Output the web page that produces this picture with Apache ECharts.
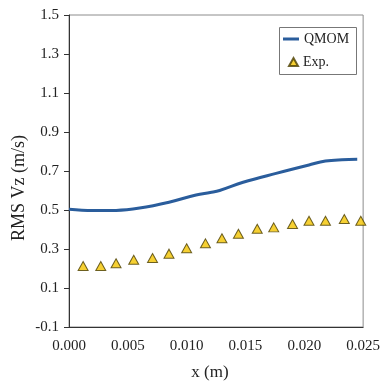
<!DOCTYPE html>
<html><head><meta charset="utf-8">
<script src="https://cdn.jsdelivr.net/npm/echarts@6/dist/echarts.min.js"></script>
<style>html,body{margin:0;padding:0;background:#fff}#c{width:383px;height:383px}</style>
</head><body><div id="c"></div>
<script>
var qmomX = [0, 0.002, 0.004, 0.006, 0.0085, 0.0108, 0.0120, 0.0128, 0.0148, 0.0176, 0.0204, 0.0218, 0.0232, 0.0245];
var qmomY = [0.504, 0.497, 0.498, 0.510, 0.540, 0.577, 0.590, 0.600, 0.642, 0.688, 0.731, 0.751, 0.758, 0.760];
var expX = [0.0012, 0.0027, 0.0040, 0.0055, 0.0071, 0.0085, 0.0100, 0.0116, 0.0130, 0.0144, 0.0160, 0.0174, 0.0190, 0.0204, 0.0218, 0.0234, 0.0248];
var expY = [0.213, 0.213, 0.227, 0.245, 0.254, 0.276, 0.304, 0.329, 0.355, 0.378, 0.404, 0.411, 0.428, 0.445, 0.445, 0.454, 0.445];
var yTicks = [-0.1, 0.1, 0.3, 0.5, 0.7, 0.9, 1.1, 1.3, 1.5];
var xTicks = [0, 0.005, 0.010, 0.015, 0.020, 0.025];
var xTitle = 'x (m)';
var yTitle = 'RMS Vz (m/s)';

var font = '"Liberation Serif", "DejaVu Serif", serif';
var chart = echarts.init(document.getElementById('c'), null, {renderer: 'canvas'});
chart.setOption({
  animation: false,
  backgroundColor: '#fff',
  grid: {left: 69, right: 19, top: 15, bottom: 56, show: true, borderColor: '#8c8c8c', borderWidth: 1, containLabel: false},
  xAxis: {
    type: 'value', min: 0, max: 0.025,
    axisLine: {show: true, onZero: false, lineStyle: {color: '#333', width: 1}},
    axisTick: {show: false},
    splitLine: {show: false},
    axisLabel: {fontFamily: font, fontSize: 15, color: '#222', margin: 12,
      customValues: xTicks,
      formatter: function (v) { return v.toFixed(3); }}
  },
  yAxis: {
    type: 'value', min: -0.1, max: 1.5,
    axisLine: {show: true, onZero: false, lineStyle: {color: '#333', width: 1}},
    axisTick: {show: true, length: 5, customValues: yTicks, lineStyle: {color: '#333'}},
    splitLine: {show: false},
    axisLabel: {fontFamily: font, fontSize: 15, color: '#222', margin: 10,
      customValues: yTicks,
      formatter: function (v) { return v.toFixed(1); }}
  },
  legend: [{
    data: [{name: 'QMOM', icon: 'rect'}],
    left: 283, top: 32, padding: 0, itemWidth: 16, itemHeight: 3,
    textStyle: {fontFamily: font, fontSize: 14, color: '#222'},
    selectedMode: false
  }, {
    data: [{name: 'Exp.', icon: 'triangle'}],
    left: 288, top: 55, padding: 0, itemWidth: 9, itemHeight: 8,
    textStyle: {fontFamily: font, fontSize: 14, color: '#222'},
    selectedMode: false
  }],
  graphic: [{
    type: 'rect', left: 279, top: 27, z: 0,
    shape: {width: 77, height: 47},
    style: {fill: '#fff', stroke: '#777', lineWidth: 1}
  }, {
    type: 'text', x: 19, y: 188, rotation: Math.PI / 2,
    style: {text: yTitle, font: '18px ' + font, fill: '#222', align: 'center', verticalAlign: 'middle'}
  }, {
    type: 'text', x: 210, y: 373,
    style: {text: xTitle, font: '17px ' + font, fill: '#222', align: 'center', verticalAlign: 'middle'}
  }],
  series: [{
    name: 'QMOM', type: 'line', smooth: 0.4, showSymbol: false, symbol: 'none',
    data: qmomX.map(function (x, i) { return [x, qmomY[i]]; }),
    lineStyle: {color: '#2a5d9c', width: 3},
    itemStyle: {color: '#2a5d9c'}
  }, {
    name: 'Exp.', type: 'scatter', symbol: 'triangle', symbolSize: [10, 9],
    data: expX.map(function (x, i) { return [x, expY[i]]; }),
    itemStyle: {color: '#f4c400', borderColor: '#4a3d00', borderWidth: 1}
  }]
});
</script></body></html>
